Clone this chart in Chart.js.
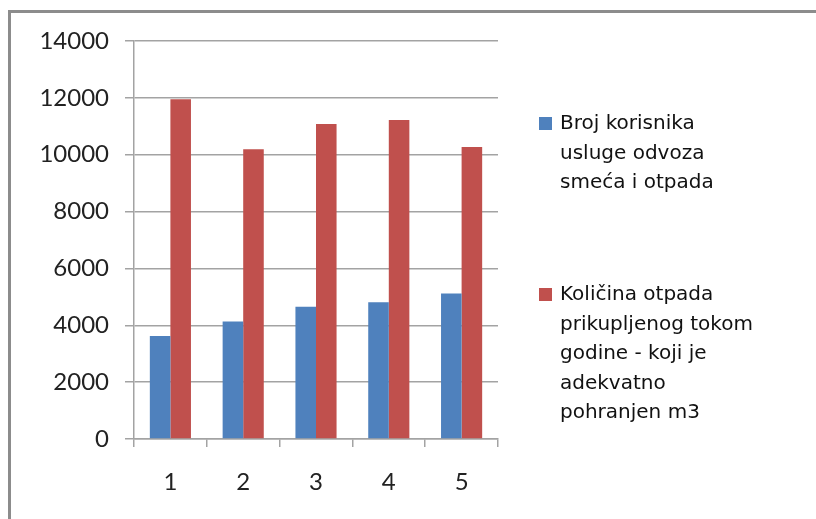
<!DOCTYPE html>
<html>
<head>
<meta charset="utf-8">
<script src="https://cdn.jsdelivr.net/npm/chart.js@4.4.1/dist/chart.umd.min.js"></script>
<style>
    html, body { margin: 0; padding: 0; background: #fff; overflow: hidden; }
    body { width: 816px; height: 519px; position: relative; }
    #frame {
        position: absolute; left: 8px; top: 10px; width: 808px; height: 509px;
        border-left: 3px solid #8c8c8c; border-top: 3px solid #8c8c8c;
        box-sizing: border-box;
    }
    #chart-wrap { position: absolute; left: 0; top: 0; width: 816px; height: 519px; }
    #legend {
        position: absolute; left: 538px; top: 0; width: 270px;
        font-family: "DejaVu Sans", sans-serif; font-size: 20px; line-height: 29.5px; color: #111;
    }
    .legend-item { position: absolute; left: 0; white-space: nowrap; }
    .legend-item .box { position: absolute; left: 1px; top: 9px; width: 13px; height: 13px; }
    .legend-item .txt { margin-left: 22px; }
</style>
</head>
<body>
<div id="frame"></div>
<div id="chart-wrap"><canvas id="waste-chart" width="816" height="519"></canvas></div>
<div id="legend"></div>
<script>
// Categories (years 1-5) and the two series
const categories = ['1', '2', '3', '4', '5'];
const korisniciValues = [3620, 4130, 4650, 4810, 5120];
const otpadValues = [11950, 10190, 11080, 11220, 10270];

// Legend texts, broken into lines like in the original
const korisniciLabel = ['Broj korisnika', 'usluge odvoza', 'smeća i otpada'];
const otpadLabel = ['Količina otpada', 'prikupljenog tokom', 'godine - koji je', 'adekvatno', 'pohranjen m3'];

const blue = '#4F81BD';
const red = '#C0504D';
const gridGrey = '#a3a3a3';

// Build the HTML legend beside the chart
function renderLegend() {
    const legend = document.getElementById('legend');
    const items = [
        { lines: korisniciLabel, color: blue, top: 108 },
        { lines: otpadLabel, color: red, top: 279 }
    ];
    items.forEach(item => {
        const el = document.createElement('div');
        el.className = 'legend-item';
        el.style.top = item.top + 'px';
        el.innerHTML = '<span class="box" style="background:' + item.color + '"></span>' +
            '<div class="txt">' + item.lines.join('<br>') + '</div>';
        legend.appendChild(el);
    });
}

renderLegend();

const ctx = document.getElementById('waste-chart').getContext('2d');

new Chart(ctx, {
    type: 'bar',
    data: {
        labels: categories,
        datasets: [
            {
                label: korisniciLabel.join(' '),
                data: korisniciValues,
                backgroundColor: blue,
                borderWidth: 0,
                categoryPercentage: 0.565,
                barPercentage: 1.0
            },
            {
                label: otpadLabel.join(' '),
                data: otpadValues,
                backgroundColor: red,
                borderWidth: 0,
                categoryPercentage: 0.565,
                barPercentage: 1.0
            }
        ]
    },
    options: {
        responsive: false,
        animation: false,
        layout: {
            padding: { left: 0, top: 41, right: 318, bottom: 0 }
        },
        plugins: {
            legend: { display: false },
            tooltip: { enabled: false }
        },
        scales: {
            x: {
                afterFit: function(scale) { scale.height = 80; },
                grid: {
                    offset: true,
                    drawOnChartArea: false,
                    drawTicks: true,
                    tickLength: 8,
                    color: gridGrey,
                    lineWidth: 1.5
                },
                border: { color: gridGrey, width: 1.5 },
                ticks: {
                    padding: 21,
                    color: '#222',
                    font: { family: 'Lato', size: 24 }
                }
            },
            y: {
                min: 0,
                max: 14000,
                afterFit: function(scale) { scale.width = 134; },
                grid: {
                    color: gridGrey,
                    lineWidth: 1.5,
                    drawTicks: true,
                    tickLength: 9
                },
                border: { color: gridGrey, width: 1.5 },
                ticks: {
                    stepSize: 2000,
                    padding: 16,
                    color: '#222',
                    font: { family: 'Lato', size: 24 },
                    // plain numbers, no thousands separator
                    callback: function(value) { return String(value); }
                }
            }
        }
    }
});
</script>
</body>
</html>
